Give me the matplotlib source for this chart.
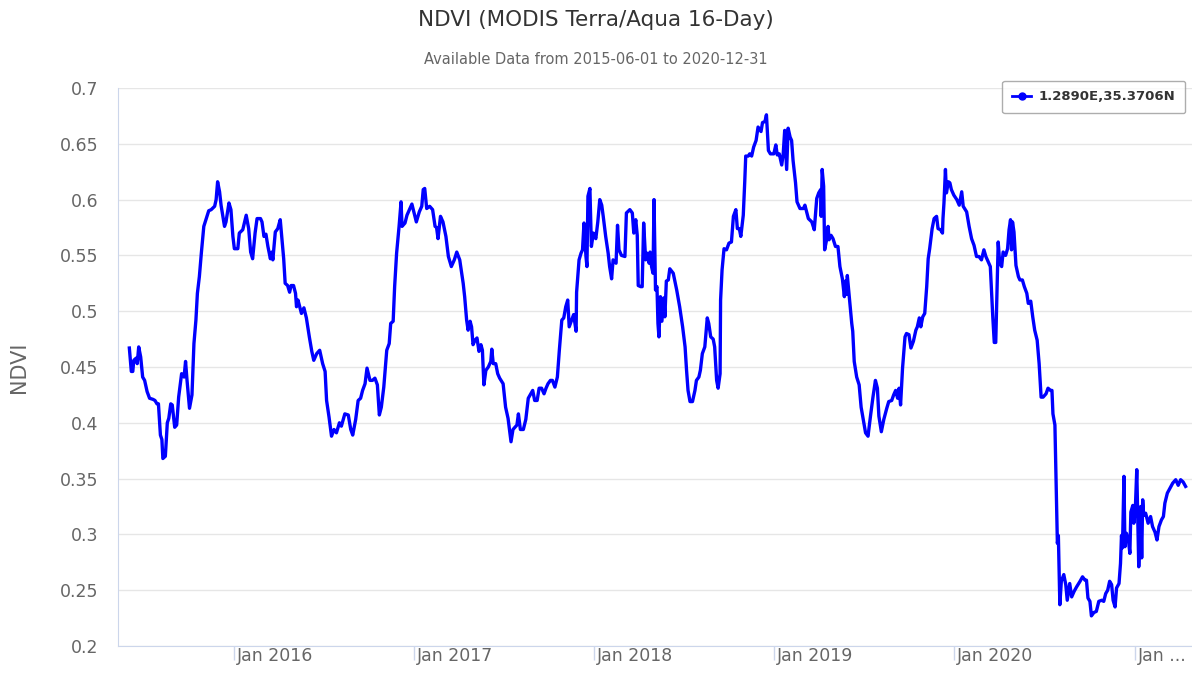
import pandas as pd
import matplotlib.pyplot as plt
from matplotlib.lines import Line2D

# days since 2015-06-01 and NDVI values
days = [
    2, 6, 9, 11, 16, 18, 21, 25, 29, 33, 38, 43, 50, 54, 58, 61, 65, 68, 70, 75,
    79, 82, 86, 89, 94, 98, 102, 108, 113, 116, 119, 124, 129, 133, 137, 140, 144, 148, 153, 158,
    163, 168, 175, 178, 181, 185, 188, 195, 198, 204, 208, 212, 215, 222, 225, 232, 239, 244, 248, 252,
    257, 261, 268, 271, 275, 279, 283, 288, 291, 293, 298, 303, 308, 311, 315, 318, 323, 327, 330, 335,
    339, 341, 344, 351, 356, 361, 367, 372, 376, 382, 388, 394, 399, 402, 407, 412, 417, 422, 428, 432,
    439, 446, 451, 455, 461, 466, 471, 475, 480, 484, 490, 495, 500, 505, 509, 513, 518, 524, 529, 532,
    537, 540, 544, 549, 553, 555, 561, 565, 571, 575, 579, 584, 590, 595, 598, 601, 605, 611, 617, 622,
    625, 628, 633, 638, 644, 649, 655, 661, 666, 672, 679, 682, 686, 689, 693, 696, 699, 703, 707, 711,
    715, 718, 721, 725, 730, 735, 737, 740, 745, 749, 753, 760, 765, 770, 776, 780, 786, 788, 791, 795,
    801, 806, 811, 816, 820, 824, 829, 833, 838, 843, 847, 851, 856, 860, 865, 870, 874, 879, 883, 887,
    891, 894, 899, 903, 908, 909, 914, 918, 921, 924, 928, 930, 932, 936, 939, 943, 948, 952, 956, 960,
    963, 968, 973, 976, 980, 983, 989, 992, 995, 1000, 1007, 1010, 1017, 1022, 1025, 1029, 1032, 1034, 1039, 1042,
    1045, 1049, 1052, 1056, 1058, 1061, 1064, 1066, 1069, 1072, 1074, 1076, 1079, 1082, 1086, 1088, 1091, 1095, 1098, 1105,
    1112, 1118, 1124, 1129, 1132, 1135, 1139, 1144, 1149, 1152, 1157, 1160, 1164, 1169, 1174, 1177, 1181, 1186, 1189, 1193,
    1196, 1200, 1201, 1204, 1208, 1213, 1218, 1223, 1227, 1232, 1235, 1239, 1242, 1247, 1250, 1252, 1257, 1260, 1264, 1268,
    1273, 1277, 1283, 1286, 1291, 1294, 1298, 1302, 1309, 1313, 1316, 1320, 1325, 1328, 1331, 1335, 1338, 1342, 1345, 1348,
    1353, 1356, 1362, 1369, 1372, 1379, 1386, 1391, 1396, 1400, 1404, 1405, 1407, 1410, 1412, 1416, 1419, 1421, 1425, 1429,
    1434, 1439, 1443, 1448, 1452, 1454, 1456, 1458, 1462, 1467, 1469, 1472, 1477, 1482, 1486, 1490, 1495, 1500, 1505, 1510,
    1515, 1519, 1522, 1527, 1532, 1538, 1542, 1548, 1552, 1556, 1560, 1563, 1566, 1570, 1575, 1578, 1583, 1587, 1592, 1597,
    1600, 1604, 1607, 1611, 1615, 1619, 1622, 1625, 1630, 1634, 1639, 1642, 1647, 1651, 1652, 1654, 1657, 1659, 1663, 1666,
    1669, 1674, 1680, 1685, 1690, 1693, 1700, 1705, 1710, 1715, 1720, 1725, 1730, 1735, 1739, 1744, 1748, 1753, 1756, 1759,
    1764, 1767, 1771, 1774, 1779, 1783, 1786, 1789, 1791, 1793, 1796, 1800, 1805, 1808, 1813, 1817, 1822, 1825, 1830, 1834,
    1838, 1843, 1847, 1851, 1855, 1861, 1865, 1870, 1873, 1875, 1879, 1884, 1886, 1889, 1892, 1897, 1901, 1904, 1909, 1913,
    1918, 1923, 1930, 1935, 1940, 1943, 1946, 1950, 1953, 1958, 1963, 1968, 1974, 1978, 1982, 1986, 1990, 1994, 1997, 2001,
    2004, 2009, 2012, 2014, 2016, 2019, 2021, 2024, 2028, 2031, 2033, 2037, 2039, 2042, 2045, 2047, 2049, 2053, 2055, 2057,
    2059, 2063, 2068, 2073, 2077, 2082, 2086, 2090, 2095, 2099, 2102, 2107, 2112, 2118, 2124, 2129, 2134, 2139, 2144,
]
ndvi = [
    0.467, 0.446, 0.446, 0.456, 0.458, 0.453, 0.468, 0.459, 0.441, 0.438, 0.428, 0.422, 0.421, 0.420, 0.417, 0.417, 0.389, 0.385, 0.368, 0.370,
    0.400, 0.404, 0.417, 0.416, 0.396, 0.398, 0.423, 0.444, 0.441, 0.455, 0.438, 0.413, 0.425, 0.471, 0.492, 0.516, 0.531, 0.552, 0.576, 0.583,
    0.590, 0.591, 0.594, 0.600, 0.616, 0.607, 0.595, 0.576, 0.580, 0.597, 0.591, 0.567, 0.556, 0.556, 0.570, 0.573, 0.586, 0.574, 0.553, 0.547,
    0.570, 0.583, 0.583, 0.580, 0.567, 0.569, 0.558, 0.547, 0.553, 0.546, 0.571, 0.574, 0.582, 0.567, 0.547, 0.525, 0.523, 0.517, 0.523, 0.523,
    0.516, 0.504, 0.510, 0.498, 0.503, 0.494, 0.477, 0.464, 0.456, 0.462, 0.465, 0.453, 0.446, 0.420, 0.405, 0.388, 0.394, 0.391, 0.400, 0.397,
    0.408, 0.407, 0.394, 0.389, 0.403, 0.420, 0.422, 0.429, 0.435, 0.449, 0.438, 0.438, 0.440, 0.434, 0.407, 0.414, 0.432, 0.465, 0.471, 0.489,
    0.491, 0.522, 0.552, 0.576, 0.598, 0.576, 0.579, 0.586, 0.592, 0.596, 0.589, 0.580, 0.589, 0.594, 0.609, 0.610, 0.592, 0.594, 0.591, 0.576,
    0.575, 0.565, 0.585, 0.580, 0.567, 0.549, 0.540, 0.546, 0.553, 0.546, 0.525, 0.513, 0.492, 0.483, 0.491, 0.486, 0.470, 0.474, 0.476, 0.464,
    0.470, 0.465, 0.434, 0.447, 0.450, 0.455, 0.466, 0.453, 0.453, 0.444, 0.440, 0.435, 0.414, 0.404, 0.383, 0.394, 0.397, 0.398, 0.408, 0.394,
    0.394, 0.403, 0.422, 0.426, 0.429, 0.420, 0.420, 0.431, 0.431, 0.426, 0.431, 0.435, 0.438, 0.438, 0.432, 0.441, 0.465, 0.492, 0.494, 0.504,
    0.510, 0.486, 0.492, 0.497, 0.482, 0.517, 0.546, 0.552, 0.555, 0.579, 0.549, 0.540, 0.603, 0.610, 0.558, 0.570, 0.565, 0.580, 0.600, 0.595,
    0.585, 0.567, 0.552, 0.540, 0.529, 0.546, 0.543, 0.577, 0.555, 0.550, 0.549, 0.588, 0.591, 0.588, 0.570, 0.582, 0.568, 0.523, 0.522, 0.522,
    0.579, 0.546, 0.552, 0.543, 0.553, 0.540, 0.534, 0.600, 0.519, 0.522, 0.489, 0.477, 0.513, 0.491, 0.512, 0.495, 0.527, 0.528, 0.538, 0.534,
    0.519, 0.504, 0.486, 0.468, 0.447, 0.429, 0.419, 0.419, 0.429, 0.438, 0.441, 0.447, 0.462, 0.468, 0.494, 0.489, 0.477, 0.475, 0.468, 0.438,
    0.431, 0.444, 0.510, 0.537, 0.556, 0.555, 0.561, 0.562, 0.585, 0.591, 0.574, 0.574, 0.567, 0.586, 0.616, 0.639, 0.639, 0.641, 0.639, 0.647,
    0.653, 0.665, 0.661, 0.669, 0.670, 0.676, 0.644, 0.641, 0.641, 0.649, 0.640, 0.641, 0.631, 0.641, 0.662, 0.627, 0.664, 0.656, 0.653, 0.635,
    0.615, 0.598, 0.592, 0.592, 0.595, 0.583, 0.580, 0.573, 0.601, 0.606, 0.609, 0.585, 0.627, 0.612, 0.555, 0.564, 0.576, 0.564, 0.568, 0.565,
    0.558, 0.558, 0.540, 0.529, 0.513, 0.527, 0.515, 0.532, 0.513, 0.489, 0.482, 0.455, 0.441, 0.434, 0.414, 0.404, 0.391, 0.388, 0.406, 0.423,
    0.438, 0.431, 0.406, 0.392, 0.403, 0.413, 0.419, 0.420, 0.425, 0.429, 0.422, 0.431, 0.416, 0.449, 0.477, 0.480, 0.479, 0.467, 0.473, 0.483,
    0.486, 0.494, 0.486, 0.495, 0.498, 0.522, 0.547, 0.556, 0.574, 0.583, 0.585, 0.574, 0.573, 0.570, 0.583, 0.597, 0.627, 0.606, 0.616, 0.615,
    0.609, 0.604, 0.600, 0.595, 0.607, 0.594, 0.589, 0.576, 0.565, 0.559, 0.549, 0.549, 0.546, 0.555, 0.549, 0.544, 0.540, 0.495, 0.472, 0.472,
    0.562, 0.543, 0.540, 0.553, 0.550, 0.556, 0.573, 0.582, 0.555, 0.580, 0.571, 0.541, 0.531, 0.528, 0.528, 0.522, 0.516, 0.507, 0.509, 0.495,
    0.483, 0.474, 0.453, 0.423, 0.423, 0.426, 0.431, 0.429, 0.429, 0.408, 0.398, 0.292, 0.299, 0.237, 0.258, 0.264, 0.255, 0.241, 0.256, 0.244,
    0.249, 0.253, 0.258, 0.262, 0.259, 0.259, 0.243, 0.240, 0.227, 0.230, 0.231, 0.240, 0.241, 0.240, 0.247, 0.250, 0.258, 0.255, 0.241, 0.235,
    0.252, 0.256, 0.274, 0.299, 0.288, 0.352, 0.289, 0.301, 0.295, 0.283, 0.320, 0.326, 0.310, 0.322, 0.358, 0.316, 0.271, 0.325, 0.279, 0.331,
    0.317, 0.319, 0.310, 0.316, 0.307, 0.302, 0.295, 0.307, 0.313, 0.316, 0.328, 0.337, 0.341, 0.346, 0.349, 0.344, 0.349, 0.347, 0.343,
]
start = pd.Timestamp("2015-06-01")
dates = start + pd.to_timedelta(days, unit="D")

tick_years = [2016, 2017, 2018, 2019, 2020, 2021]
tick_labels = ["Jan 2016", "Jan 2017", "Jan 2018", "Jan 2019", "Jan 2020", "Jan ..."]
y_ticks = [0.2, 0.25, 0.3, 0.35, 0.4, 0.45, 0.5, 0.55, 0.6, 0.65, 0.7]
series_name = "1.2890E,35.3706N"

blue = "#0000ff"
axis_col = "#ccd6eb"
grid_col = "#e6e6e6"

fig = plt.figure(figsize=(11.92, 6.73), dpi=100)
ax = fig.add_axes([118 / 1192, 27 / 673, 1 - 118 / 1192, 558 / 673])

ax.plot(dates, ndvi, color=blue, lw=2.4, solid_joinstyle="round")

ax.set_ylim(0.2, 0.7)
ax.set_xlim(start - pd.Timedelta(days=21), start + pd.Timedelta(days=2157))

ax.set_yticks(y_ticks)
ax.set_yticklabels([f"{v:g}" for v in y_ticks])
ax.tick_params(axis="y", length=0, pad=14, labelsize=12.5, labelcolor="#666666")
ax.grid(axis="y", color=grid_col, lw=1)
ax.set_axisbelow(True)

ax.set_xticks([pd.Timestamp(f"{y}-01-01") for y in tick_years])
ax.set_xticklabels(tick_labels, ha="left")
ax.tick_params(axis="x", length=10, width=1, color=axis_col, pad=-9,
               labelsize=12.5, labelcolor="#666666")
for lbl in ax.get_xticklabels():
    lbl.set_x(lbl.get_position()[0])
    lbl.set_transform(lbl.get_transform() + plt.matplotlib.transforms.ScaledTranslation(3 / 100, 0, fig.dpi_scale_trans))

for side in ["top", "right"]:
    ax.spines[side].set_visible(False)
ax.spines["left"].set_color(axis_col)
ax.spines["bottom"].set_color(axis_col)

ax.set_ylabel("NDVI", fontsize=15, color="#666666", labelpad=22)

fig.text(0.5, 1 - 20 / 673, "NDVI (MODIS Terra/Aqua 16-Day)", ha="center", va="center",
         fontsize=15.5, color="#333333")
fig.text(0.5, 1 - 59 / 673, "Available Data from 2015-06-01 to 2020-12-31", ha="center",
         va="center", fontsize=10.5, color="#666666")

handle = Line2D([0], [0], color=blue, lw=2, marker="o", markersize=5)
leg = ax.legend([handle], [series_name], loc="upper right",
                bbox_to_anchor=(1, 1 - 74 / 673), bbox_transform=fig.transFigure,
                frameon=True, fancybox=True, handlelength=1.4, handletextpad=0.6,
                borderpad=0.75, prop={"size": 9.5, "weight": "bold"})
leg.get_frame().set_edgecolor("#999999")
leg.get_frame().set_linewidth(1)
for t in leg.get_texts():
    t.set_color("#333333")

fig.savefig("out.png", dpi=100)
